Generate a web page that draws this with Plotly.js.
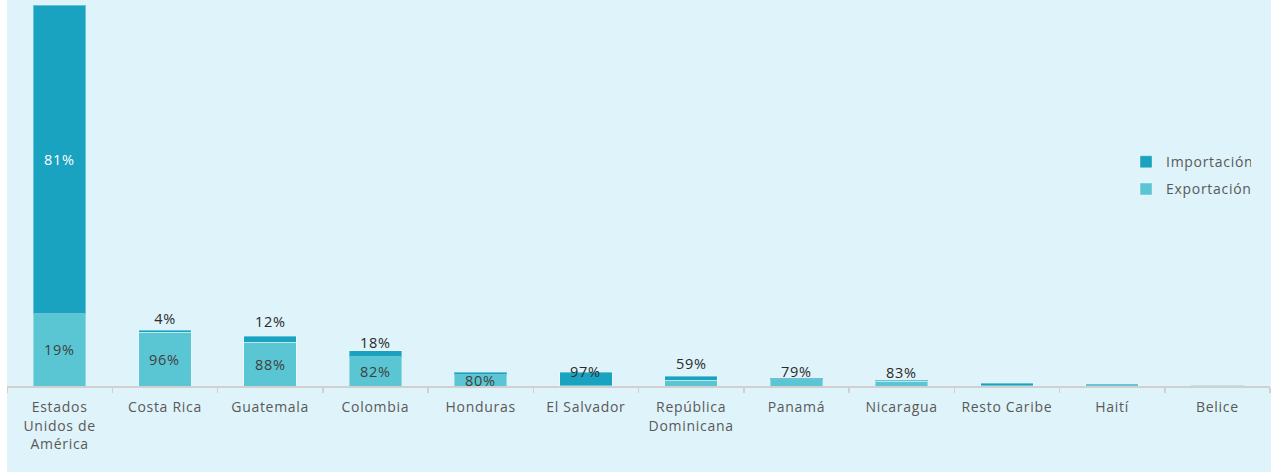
<!DOCTYPE html>
<html>
<head>
<meta charset="utf-8">
<script src="https://cdn.plot.ly/plotly-3.0.1.min.js"></script>
<style>
  html, body { margin: 0; padding: 0; background: #ffffff; }
  #chart { position: absolute; left: 7px; top: 0; width: 1264px; height: 472px; }
  #chart svg text { letter-spacing: 0.7px; }
</style>
</head>
<body>
<div id="chart"></div>
<script>
// ---- data ----
const categories = ['Estados<br>Unidos de<br>América', 'Costa Rica', 'Guatemala', 'Colombia', 'Honduras',
  'El Salvador', 'República<br>Dominicana', 'Panamá', 'Nicaragua', 'Resto Caribe', 'Haití', 'Belice'];
const importacion = [3086, 22, 60, 64, 28, 133, 41, 16, 10, 25, 19, 1];
const exportacion = [724, 538, 440, 291, 112, 4, 59, 61, 50, 2, 1, 9];

// ---- label display config (style) ----
const importLabelMode = ['in', 'top', 'top', 'top', '', 'top', '', '', '', '', '', ''];
const exportLabelMode = ['in', 'in', 'in', 'in', 'in', '', 'top', 'top', 'top', '', '', ''];
const topShift = [0, 12, 15, 8, 0, 1, 13, 7, 8, 0, 0, 0];

const colImp = '#1AA2C1';
const colExp = '#5BC6D3';
const font = '"Open Sans", "Noto Sans", sans-serif';

const traces = [
  { type: 'bar', name: 'Exportación', x: categories, y: exportacion, legendgroup: 'exp', legendrank: 2,
    marker: { color: colExp, line: { color: 'rgba(255,255,255,0.35)', width: 1 } }, hoverinfo: 'x+y' },
  { type: 'bar', name: 'Importación', x: categories, y: importacion, legendgroup: 'imp', legendrank: 1,
    marker: { color: colImp, line: { color: 'rgba(255,255,255,0.35)', width: 1 } }, hoverinfo: 'x+y' }
];

const annotations = [];
categories.forEach((c, i) => {
  const tot = importacion[i] + exportacion[i];
  const pImp = Math.round(importacion[i] / tot * 100) + '%';
  const pExp = Math.round(exportacion[i] / tot * 100) + '%';
  const base = { x: c, xref: 'x', yref: 'y', showarrow: false, yanchor: 'middle',
                 font: { family: font, size: 14.5, color: '#2a2a2a' } };
  if (importLabelMode[i] === 'in') {
    annotations.push(Object.assign({}, base, { text: pImp, y: exportacion[i] + importacion[i] / 2,
      font: { family: font, size: 14.5, color: '#ffffff' } }));
  } else if (importLabelMode[i] === 'top') {
    annotations.push(Object.assign({}, base, { text: pImp, y: tot, yshift: topShift[i] }));
  }
  if (exportLabelMode[i] === 'in') {
    annotations.push(Object.assign({}, base, { text: pExp, y: exportacion[i] / 2,
      font: { family: font, size: 14.5, color: '#404040' } }));
  } else if (exportLabelMode[i] === 'top') {
    annotations.push(Object.assign({}, base, { text: pExp, y: tot, yshift: topShift[i] }));
  }
});

const layout = {
  width: 1264, height: 472,
  paper_bgcolor: '#DFF3FA', plot_bgcolor: '#DFF3FA',
  margin: { l: 0, r: 1, t: 5, b: 86 },
  barmode: 'stack', bargap: 0.5,
  showlegend: true,
  legend: { x: 0.886, y: 0.552, xanchor: 'left', yanchor: 'middle', traceorder: 'grouped',
            bgcolor: 'rgba(0,0,0,0)', itemwidth: 30, tracegroupgap: 6,
            font: { family: font, size: 14, color: '#595959' } },
  xaxis: { type: 'category', showgrid: false, zeroline: false, showline: true,
           linecolor: '#D0D0D0', linewidth: 1.5, ticks: 'outside', tickson: 'boundaries',
           ticklen: 5, tickcolor: '#D0D0D0', tickwidth: 1.5, ticklabelstandoff: 8,
           tickfont: { family: font, size: 14, color: '#595959' } },
  yaxis: { range: [0, 3810], visible: false, showgrid: false, zeroline: false, fixedrange: true },
  annotations: annotations
};

Plotly.newPlot('chart', traces, layout, { displayModeBar: false, staticPlot: true });
</script>
</body>
</html>
